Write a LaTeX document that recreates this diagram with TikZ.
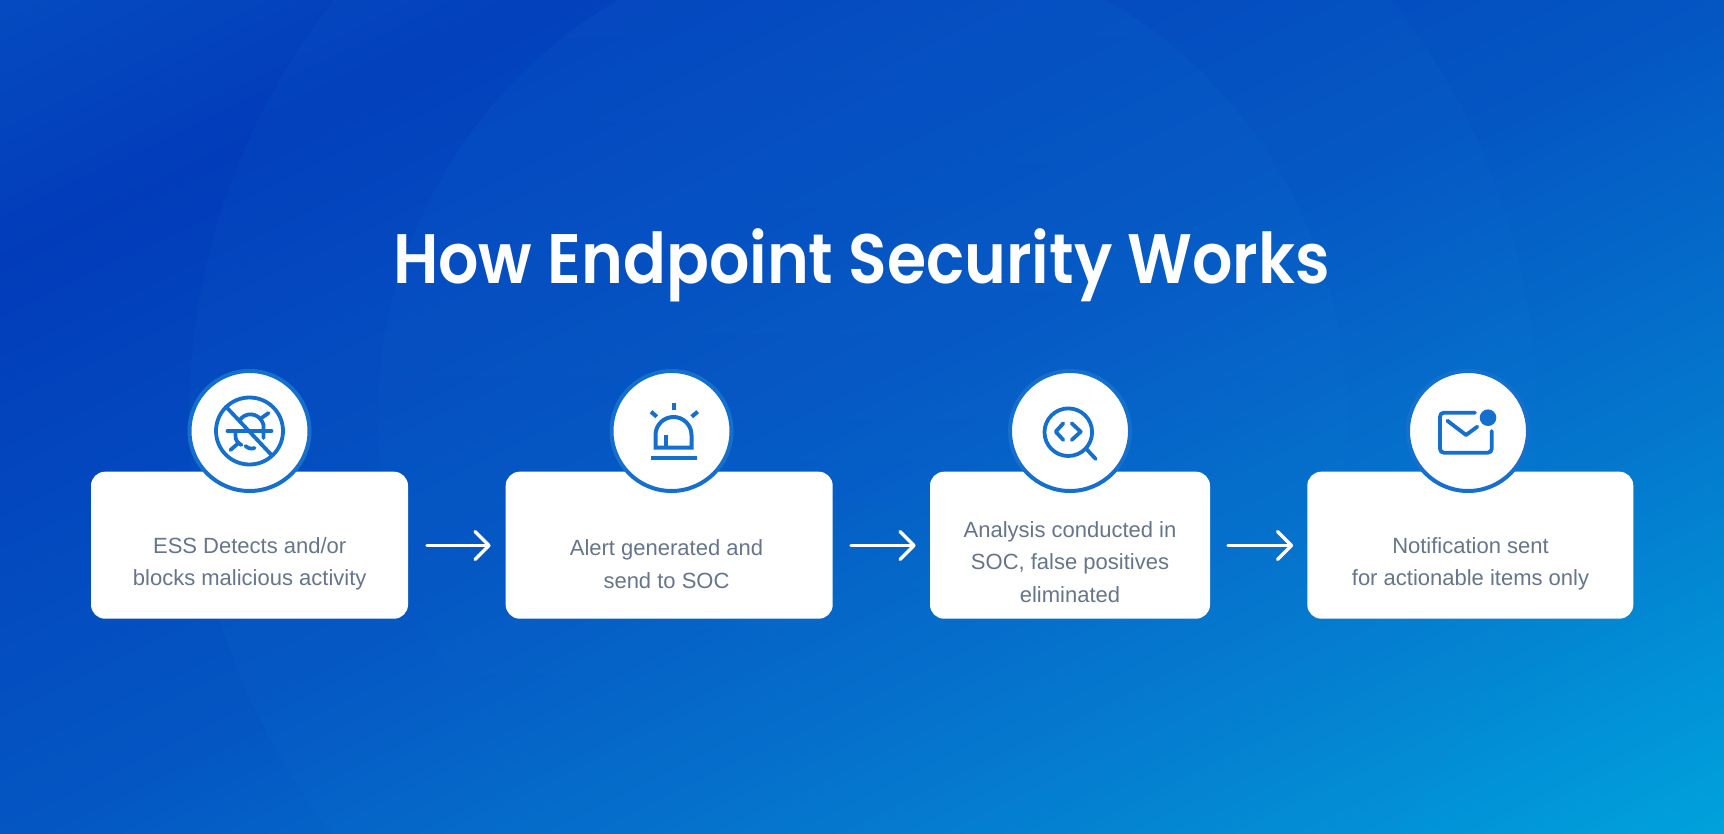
\documentclass[tikz,border=0pt]{standalone}
\usepackage{fontspec}
\setmainfont{Liberation Sans}
\newfontfamily\titlefont{Poppins SemiBold}
\usetikzlibrary{fadings}
\definecolor{bgA}{HTML}{023CBA}
\definecolor{bgZ}{HTML}{0650C2}
\definecolor{bgM}{HTML}{0456C3}
\definecolor{bgL}{HTML}{0478CD}
\definecolor{bgB}{HTML}{00A2DC}
\definecolor{haloc}{HTML}{1C8CE0}
\definecolor{ringc}{HTML}{1470CC}
\definecolor{iconc}{HTML}{1470CC}
\definecolor{textc}{HTML}{66758A}
\pgfdeclareverticalshading{bggrad}{100bp}{color(0bp)=(bgB); color(31.25bp)=(bgB); color(40.75bp)=(bgL); color(49.9bp)=(bgM); color(62.9bp)=(bgA); color(70.9bp)=(bgZ); color(100bp)=(bgZ)}
\tikzset{
  cardbox/.style={fill=white,rounded corners=14pt,draw=none,inner sep=0pt,minimum height=147pt},
  cardtext/.style={text=textc,font=\fontsize{22}{32.3}\selectfont,align=center,inner sep=0pt},
  ringdisc/.style={circle,fill=white,draw=ringc,line width=4pt,minimum size=120pt,inner sep=0pt},
  flowarrow/.style={draw=white,line width=3.4pt,line cap=round,line join=round},
  icon/.style={draw=iconc,line width=3.8pt,line cap=round,line join=round,fill=none},
  iconb/.style={draw=iconc,line width=4pt,line cap=butt,line join=miter,fill=none},
  halo/.style={fill=haloc,draw=none}
}
\begin{document}
\begin{tikzpicture}[x=1pt,y=-1pt]
\useasboundingbox (0,0) rectangle (1724,834);
\begin{scope}
\clip (0,0) rectangle (1724,834);
\shade[shading=bggrad,shading angle=25.8] (-138,-583) rectangle (1862,1417);
\fill[halo,fill opacity=.06] (863,418) circle[radius=674];
\fill[halo,fill opacity=.09,path fading=south] (863,418) circle[radius=485];
\end{scope}
\node[text=white,font=\titlefont\fontsize{70}{80}\selectfont,inner sep=0pt,anchor=base] (title) at (861.5,284) {\scalebox{.905}[1]{How Endpoint Security Works}};
% cards
\node[cardbox,minimum width=317pt] (c1) at (249.5,545.2) {};
\node[cardbox,minimum width=327pt] (c2) at (669.2,545.2) {};
\node[cardbox,minimum width=280pt] (c3) at (1070,545.2) {};
\node[cardbox,minimum width=326pt] (c4) at (1470.3,545.2) {};
% discs
\node[ringdisc] (d1) at (249.5,431) {};
\node[ringdisc] (d2) at (671.5,431) {};
\node[ringdisc] (d3) at (1070,431) {};
\node[ringdisc] (d4) at (1468,431) {};
% text
\node[cardtext] (t1) at (249.7,564) {ESS Detects and/or\\blocks malicious activity};
\node[cardtext] (t2) at (666.5,564) {Alert generated and\\send to SOC};
\node[cardtext] (t3) at (1070,562) {Analysis conducted in\\SOC, false positives\\eliminated};
\node[cardtext] (t4) at (1470.5,564) {Notification sent\\for actionable items only};
% arrows
\coordinate (a1s) at (427,545.5);\coordinate (a1e) at (489,545.5);
\coordinate (a2s) at (851,545.5);\coordinate (a2e) at (914,545.5);
\coordinate (a3s) at (1228,545.5);\coordinate (a3e) at (1291.5,545.5);
\foreach \s/\e in {a1s/a1e,a2s/a2e,a3s/a3e}{
  \draw[flowarrow] (\s) -- (\e);
  \draw[flowarrow] (\e) ++(-14,-14) -- (\e) -- ++(-14,14);
}
% icon 1: crossed bug
\begin{scope}[shift={(d1.center)}]
\draw[icon] (0,0) circle[radius=33.5];
\draw[icon] (-23.5,-24.3) -- (22,24);
\draw[icon] (-22,0) -- (22,0);
\draw[icon] (-10,-10) .. controls (-6,-19) and (10,-20) .. (14,-6) -- (14,7);
\draw[icon] (-14,0) -- (-14,5) .. controls (-14,9) and (-12,12) .. (-8,14);
\draw[icon] (-19,19) -- (-11,12);
\draw[icon] (-4,15) .. controls (-1,18) and (3,18) .. (5,17);
\draw[icon] (12,-13) -- (19,-18);
\end{scope}
% icon 2: alarm
\begin{scope}[shift={(d2.center)}]
\draw[iconb] (-16,16.5) -- (-16,4) arc[start angle=180,end angle=360,radius=18] -- (20,16.5) -- cycle;
\draw[iconb] (-20.5,26.7) -- (25,26.7);
\draw[iconb] (-6,4) -- (-6,16);
\draw[iconb] (2.8,-28.3) -- (2.8,-21);
\draw[iconb] (-20.5,-19.3) -- (-14.8,-14.3);
\draw[iconb] (26.2,-19.3) -- (20.2,-14.3);
\end{scope}
% icon 3: magnifier code
\begin{scope}[shift={(d3.center)}]
\draw[icon] (-1.7,1.2) circle[radius=23.8];
\draw[icon] (16.7,18.3) -- (25.7,28);
\draw[icon] (-6.7,-7.7) -- (-14.3,.7) -- (-6.7,9);
\draw[icon] (1.7,-7.7) -- (10.7,.7) -- (1.7,9);
\end{scope}
% icon 4: mail
\begin{scope}[shift={(d4.center)}]
\draw[icon] (7,-18.3) -- (-24,-18.3) .. controls (-26.5,-18.3) and (-28,-16.8) .. (-28,-14.3) -- (-28,17.7) .. controls (-28,20.2) and (-26.5,21.7) .. (-24,21.7) -- (19.7,21.7) .. controls (22.2,21.7) and (23.7,20.2) .. (23.7,17.7) -- (23.7,0);
\draw[icon] (-20.7,-10.3) -- (-2,4) -- (9.3,-4.3);
\fill[iconc] (20,-13.3) circle[radius=8.3];
\end{scope}
\end{tikzpicture}
\end{document}
